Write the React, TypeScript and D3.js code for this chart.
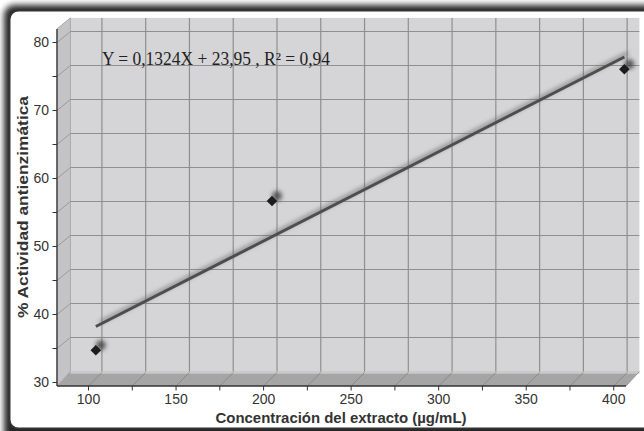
import React from "react";
import * as d3 from "d3";

const xValues = [100, 200, 400];
const yValues = [33.7, 55.7, 75.1];
const slope = 0.1324;
const intercept = 23.95;
const equationText = "Y = 0,1324X + 23,95 ,  R² = 0,94";
const xTickValues = [100, 125, 150, 175, 200, 225, 250, 275, 300, 325, 350, 375, 400];
const xLabelValues = [100, 150, 200, 250, 300, 350, 400];
const yTickValues = [30, 35, 40, 45, 50, 55, 60, 65, 70, 75, 80];
const yLabelValues = [30, 40, 50, 60, 70, 80];
const xTitle = "Concentración del extracto (µg/mL)";
const yTitle = "% Actividad antienzimática";

const W = 644;
const H = 431;
const DX = 13.4;
const DY = -11;

export default function App() {
  const xF = d3.scaleLinear().domain([82, 407]).range([57, 626]);
  const yF = d3.scaleLinear().domain([30, 82]).range([382.5, 28.9]);
  const xS = d3.scaleLinear().domain([82, 407]).range([64.1, 636.7]);
  const yS = d3.scaleLinear().domain([30, 82]).range([375.3, 22.5]);

  const x0 = xF(82), x1 = xF(407);
  const yTop = yF(82), yBot = yF(30);
  const floorFront = yBot + 3.5;
  const backL = x0 + DX, backR = x1 + DX, backT = yTop + DY, backB = yBot + DY;

  const linePts: [number, number][] = [100, 400].map((x) => [xS(x), yS(slope * x + intercept)]);
  const lineGen = d3.line();
  const diamond = d3.symbol().type(d3.symbolSquare).size(56)();

  const sans = "'Liberation Sans', Arial, sans-serif";

  return (
    <svg width={W} height={H} style={{ position: "absolute", left: 0, top: 0 }}>
      <defs>
        <filter id="frameShadow" x="-10%" y="-10%" width="120%" height="120%">
          <feGaussianBlur stdDeviation="3.2" />
        </filter>
        <filter id="soft" x="-20%" y="-20%" width="140%" height="140%">
          <feGaussianBlur stdDeviation="2.2" />
        </filter>
        <filter id="softM" x="-100%" y="-100%" width="300%" height="300%">
          <feGaussianBlur stdDeviation="2.3" />
        </filter>
      </defs>
      <rect x={0} y={0} width={W} height={H} fill="#ffffff" />
      {/* frame shadow */}
      <rect x={4} y={5} width={700} height={440} rx={10} fill="#000" opacity={0.85} filter="url(#frameShadow)" />
      <rect x={9.5} y={10.5} width={700} height={418} rx={9} fill="#ffffff" stroke="#333" strokeWidth={2} />

      {/* back wall */}
      <rect x={backL} y={backT} width={backR - backL} height={backB - backT} fill="#d5d5d7" />
      {/* side wall */}
      <polygon
        points={`${x0},${yTop} ${backL},${backT} ${backL},${backB} ${x0},${floorFront}`}
        fill="#c4c4c6"
        stroke="#a8a8a8"
        strokeWidth={1}
      />
      {/* floor */}
      <polygon
        points={`${x0},${floorFront} ${x1},${floorFront} ${backR},${backB} ${backL},${backB}`}
        fill="#a5a5a5"
      />
      <line x1={backL} x2={backR} y1={backB + 1.2} y2={backB + 1.2} stroke="#cacaca" strokeWidth={2} />

      {/* back wall gridlines */}
      {yTickValues.filter((v) => v > 30).map((v) => (
        <line key={"gy" + v} x1={backL} x2={backR} y1={yF(v) + DY} y2={yF(v) + DY} stroke="#8f8f8f" strokeWidth={1.2} />
      ))}
      {xTickValues.map((v) => (
        <line key={"gx" + v} x1={xF(v) + DX} x2={xF(v) + DX} y1={backT} y2={backB} stroke="#8f8f8f" strokeWidth={1.2} />
      ))}
      {/* side wall diagonals */}
      {yTickValues.filter((v) => v > 30).map((v) => (
        <line key={"sy" + v} x1={x0} y1={yF(v)} x2={backL} y2={yF(v) + DY} stroke="#9a9a9a" strokeWidth={1} />
      ))}
      {/* floor diagonals */}
      {xTickValues.map((v) => (
        <line key={"fx" + v} x1={xF(v)} y1={floorFront} x2={xF(v) + DX} y2={backB + 1} stroke="#8a8a8a" strokeWidth={1} />
      ))}
      <line x1={x1} y1={floorFront} x2={backR} y2={backB} stroke="#9a9a9a" strokeWidth={1} />

      {/* axis lines */}
      <line x1={x0} x2={x0} y1={yTop} y2={floorFront} stroke="#333" strokeWidth={1.3} />
      <line x1={x0} x2={x1} y1={floorFront} y2={floorFront} stroke="#333" strokeWidth={1.3} />

      {/* y ticks */}
      {yTickValues.map((v) => (
        <line key={"yt" + v} x1={x0 - 4.5} x2={x0} y1={yF(v)} y2={yF(v)} stroke="#333" strokeWidth={1} />
      ))}
      {yLabelValues.map((v) => (
        <text key={"yl" + v} x={x0 - 8} y={yF(v)} dy="0.35em" textAnchor="end" fontFamily={sans} fontSize={14} fill="#333">
          {v}
        </text>
      ))}
      {/* x ticks */}
      {xTickValues.map((v) => (
        <line key={"xt" + v} x1={xF(v)} x2={xF(v)} y1={floorFront} y2={floorFront + 4.5} stroke="#333" strokeWidth={1} />
      ))}
      {xLabelValues.map((v) => (
        <text key={"xl" + v} x={xF(v)} y={404} textAnchor="middle" fontFamily={sans} fontSize={14} fill="#333">
          {v}
        </text>
      ))}

      {/* regression line */}
      <path d={lineGen(linePts.map(([x, y]) => [x + 4, y - 4]) as [number, number][]) || ""} stroke="#6a6a6a" strokeWidth={3.5} opacity={0.7} filter="url(#soft)" fill="none" />
      <path d={lineGen(linePts) || ""} stroke="#4d4d4d" strokeWidth={3} fill="none" />

      {/* markers */}
      {xValues.map((x, i) => (
        <circle key={"ms" + i} cx={xS(x) + 5} cy={yS(yValues[i]) - 5} r={5} fill="#444" opacity={0.85} filter="url(#softM)" />
      ))}
      {xValues.map((x, i) => (
        <path key={"m" + i} d={diamond || ""} transform={`translate(${xS(x)},${yS(yValues[i])}) rotate(45)`} fill="#1c1c1c" />
      ))}

      {/* equation */}
      <text x={102} y={65} fontFamily="'Liberation Serif', 'DejaVu Serif', serif" fontSize={18} fill="#222" textLength={228} lengthAdjust="spacingAndGlyphs">
        {equationText}
      </text>

      {/* titles */}
      <text x={341} y={423} textAnchor="middle" fontFamily={sans} fontSize={14.5} fontWeight="bold" fill="#333" textLength={251} lengthAdjust="spacingAndGlyphs">
        {xTitle}
      </text>
      <text
        transform={`translate(28,${207}) rotate(-90)`}
        textAnchor="middle"
        fontFamily={sans}
        fontSize={14.5}
        fontWeight="bold"
        fill="#333"
        textLength={222}
        lengthAdjust="spacingAndGlyphs"
      >
        {yTitle}
      </text>
    </svg>
  );
}
